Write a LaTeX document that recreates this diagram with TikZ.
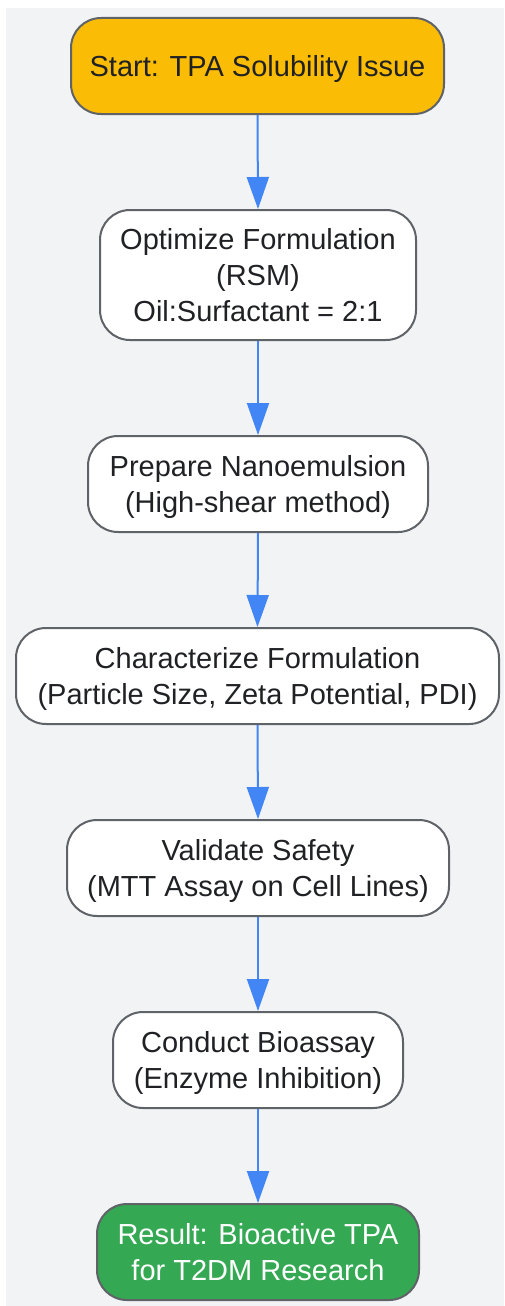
\documentclass[tikz,border=0pt]{standalone}
\usepackage{fontspec}
\setmainfont{Liberation Sans}
\usetikzlibrary{arrows.meta}
\definecolor{bggray}{HTML}{F1F3F5}
\definecolor{edgegray}{HTML}{5F6368}
\definecolor{txt}{HTML}{202124}
\definecolor{startfill}{HTML}{FBBC05}
\definecolor{endfill}{HTML}{34A853}
\definecolor{arrowblue}{HTML}{4285F4}
\newcommand\ntext[1]{\raisebox{0pt}[\dimexpr\height+7pt\relax][\depth]{\begin{tabular}{@{}c@{}}#1\end{tabular}}}
\tikzset{
  box/.style={draw=edgegray, line width=2pt, rounded corners=30pt, fill=white,
    text=txt, inner sep=0pt, font=\fontsize{29}{36}\selectfont},
  flow/.style={draw=arrowblue, line width=2pt, -{Triangle[length=32pt,width=22pt]}},
}
\begin{document}
\begin{tikzpicture}[x=1pt,y=-1pt]
\useasboundingbox (0,0) rectangle (504,1306);
\fill[white] (0,0) rectangle (504,1306);
\fill[bggray] (6,8) rectangle (504,1306);
\node[box, fill=startfill, minimum width=373pt, minimum height=96pt] (start) at (257.5,66) {\ntext{Start: TPA Solubility Issue}};
\node[box, minimum width=316pt, minimum height=130pt] (opt) at (258,275) {\ntext{Optimize Formulation\\(RSM)\\Oil:Surfactant = 2:1}};
\node[box, minimum width=340pt, minimum height=96pt] (prep) at (258,484) {\ntext{Prepare Nanoemulsion\\(High-shear method)}};
\node[box, minimum width=483pt, minimum height=96pt] (char) at (257.5,676) {\ntext{Characterize Formulation\\(Particle Size, Zeta Potential, PDI)}};
\node[box, minimum width=382pt, minimum height=96pt] (val) at (258,868) {\ntext{Validate Safety\\(MTT Assay on Cell Lines)}};
\node[box, minimum width=290pt, minimum height=96pt] (bio) at (258,1060) {\ntext{Conduct Bioassay\\(Enzyme Inhibition)}};
\node[box, fill=endfill, text=white, minimum width=322pt, minimum height=96pt] (res) at (258,1252) {\ntext{Result: Bioactive TPA\\for T2DM Research}};
\draw[flow] (start.south) -- (opt.north);
\draw[flow] (opt.south) -- (prep.north);
\draw[flow] (prep.south) -- (char.north);
\draw[flow] (char.south) -- (val.north);
\draw[flow] (val.south) -- (bio.north);
\draw[flow] (bio.south) -- (res.north);
\end{tikzpicture}
\end{document}
